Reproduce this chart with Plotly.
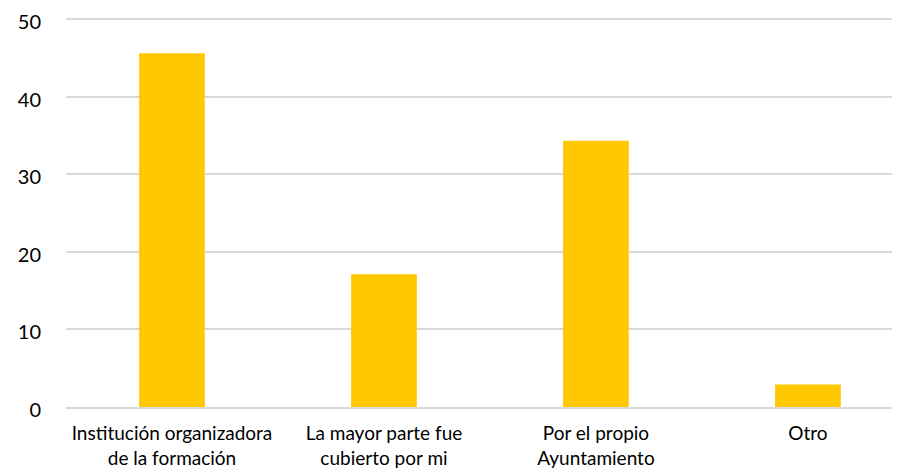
import plotly.graph_objects as go

categories = [
    "Institución organizadora<br>de la formación",
    "La mayor parte fue<br>cubierto por mi",
    "Por el propio<br>Ayuntamiento",
    "Otro",
]
values = [45.6, 17.1, 34.3, 2.9]
y_ticks = [0, 10, 20, 30, 40, 50]

fig = go.Figure(
    go.Bar(
        x=categories,
        y=values,
        marker=dict(color="#FFC800", line=dict(width=0)),
        width=0.31,
    )
)

fig.update_layout(
    width=900,
    height=469,
    template="plotly_white",
    plot_bgcolor="white",
    paper_bgcolor="white",
    margin=dict(l=58, r=0, t=3, b=70, autoexpand=False),
    font=dict(family="Lato, Open Sans, sans-serif", size=19, color="#000000"),
    showlegend=False,
)

fig.update_xaxes(
    range=[-0.5, 3.472],
    showgrid=False,
    showline=True,
    linecolor="#D9D9D9",
    linewidth=2,
    ticks="",
    ticklabelstandoff=8,
    tickfont=dict(size=19),
    automargin=False,
)

fig.update_yaxes(
    range=[0, 51.03],
    tickvals=y_ticks,
    ticktext=[str(v) for v in y_ticks],
    showgrid=True,
    gridcolor="#D9D9D9",
    gridwidth=2,
    zeroline=False,
    showline=False,
    ticks="",
    ticklabelstandoff=24,
    ticklabelshift=3,
    ticklabeloverflow="allow",
    tickfont=dict(size=20),
    automargin=True,
)

fig.write_html("out.html")
